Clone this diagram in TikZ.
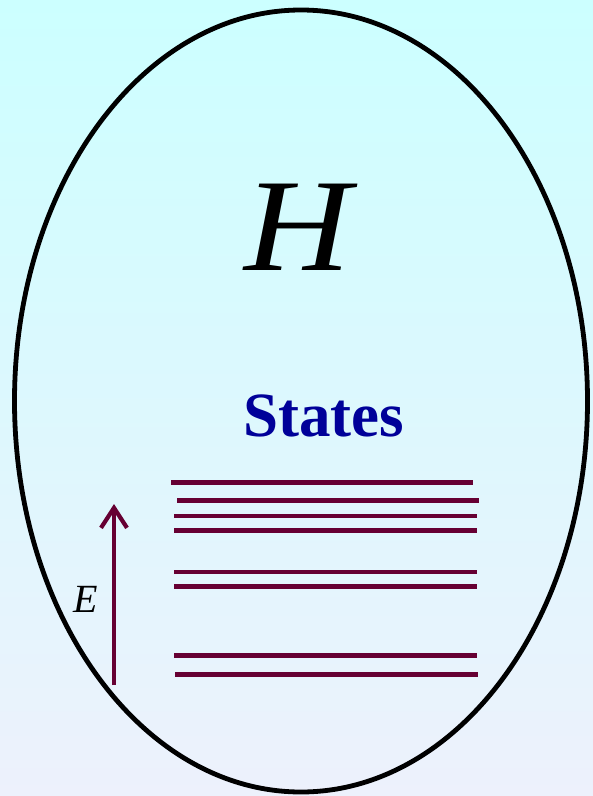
\documentclass[tikz,border=0pt]{standalone}
\usepackage{fontspec}
\setmainfont{Liberation Serif}
\usetikzlibrary{arrows.meta}
\definecolor{bgtop}{RGB}{204,255,255}
\definecolor{bgbot}{RGB}{237,241,252}
\definecolor{levelc}{RGB}{102,0,51}
\definecolor{navyc}{RGB}{0,0,153}
\tikzset{
  level/.style={draw=levelc, line width=4.6pt},
  earrow/.style={draw=levelc, line width=4.2pt, -{Straight Barb[length=20pt,width=26pt]}},
  lbl/.style={inner sep=0pt, anchor=base},
}
\begin{document}
\begin{tikzpicture}[x=1pt,y=-1pt]
\useasboundingbox (0,0) rectangle (593,796);
\shade[top color=bgtop, bottom color=bgbot] (0,0) rectangle (593,796);
\draw[line width=4.8pt] (301,401) ellipse [x radius=286.5, y radius=391];
\node[lbl, xscale=1.12] (H) at (298,270) {\fontsize{132}{140}\selectfont\itshape H};
\node[lbl, text=navyc] (states) at (323.5,436.7) {\fontsize{63}{70}\selectfont\bfseries States};
\node[lbl] (E) at (86,612.3) {\fontsize{40}{44}\selectfont\itshape E};
\coordinate (ab) at (114,685);
\coordinate (at) at (114,504);
\draw[earrow] (ab) -- (at);
\draw[level] (171,482.3) -- (473,482.3);
\draw[level] (177,500.7) -- (479,500.7);
\draw[level] (174,516) -- (477,516);
\draw[level] (174,530.3) -- (477,530.3);
\draw[level] (174,572) -- (477,572);
\draw[level] (174,586.3) -- (477,586.3);
\draw[level] (174,655.7) -- (477,655.7);
\draw[level] (175,674.3) -- (478,674.3);
\end{tikzpicture}
\end{document}
